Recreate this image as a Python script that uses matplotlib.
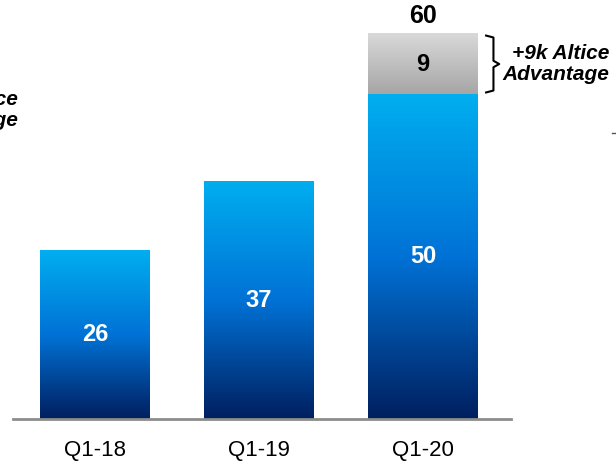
import matplotlib.pyplot as plt
import numpy as np
from matplotlib.colors import LinearSegmentedColormap
from matplotlib.lines import Line2D

plt.rcParams['font.family'] = ['Liberation Sans', 'DejaVu Sans']

# quarterly values (k) and the extra Altice segment on the last bar
quarters = ['Q1-18', 'Q1-19', 'Q1-20']
base = [26.1, 36.8, 50.2]
extra = [0, 0, 9.4]

blue = LinearSegmentedColormap.from_list(
    'blue', [(0, '#001F5F'), (0.5, '#0072D6'), (1, '#00AEEF')])
grey = LinearSegmentedColormap.from_list('grey', ['#A6A6A6', '#D9D9D9'])
ramp = np.linspace(0, 1, 256).reshape(-1, 1)

fig = plt.figure(figsize=(6.16, 4.65), dpi=100)
ax = fig.add_axes([13 / 616, 46 / 465, 498 / 616, 419 / 465])

w = 0.67
x = np.arange(len(quarters))


def grad_bar(xc, y0, y1, cmap):
    ax.imshow(ramp, extent=(xc - w / 2, xc + w / 2, y0, y1), origin='lower',
              aspect='auto', cmap=cmap, interpolation='bicubic', zorder=2)


for i in range(len(quarters)):
    grad_bar(x[i], 0, base[i], blue)
    ax.text(x[i], base[i] / 2, f'{base[i]:.0f}', ha='center', va='center',
            color='white', fontsize=17, fontweight='bold', zorder=3)
    if extra[i] > 0:
        top = base[i] + extra[i]
        grad_bar(x[i], base[i], top, grey)
        ax.text(x[i], base[i] + extra[i] / 2, f'{extra[i]:.0f}', ha='center',
                va='center', color='black', fontsize=17, fontweight='bold',
                zorder=3)
        ax.annotate(f'{top:.0f}', (x[i], top), xytext=(0, 13),
                    textcoords='offset points', ha='center', va='center',
                    fontsize=18, fontweight='bold', annotation_clip=False)

        # brace next to the grey segment
        bx = x[i] + w / 2
        lo, hi = base[i] + 0.3, top - 0.3
        mid = (lo + hi) / 2
        bx_vals = [bx + 0.05, bx + 0.095, bx + 0.095, bx + 0.13,
                   bx + 0.095, bx + 0.095, bx + 0.05]
        by_vals = [hi, hi - 0.3, mid + 0.5, mid, mid - 0.5, lo + 0.3, lo]
        ax.plot(bx_vals, by_vals, color='black', lw=1.5, clip_on=False,
                solid_joinstyle='round', zorder=3)
        fig.text(609 / 616, 1 - 64 / 465, f'+{extra[i]:.0f}k Altice\nAdvantage',
                 ha='right', va='center', ma='right', fontsize=15,
                 fontweight='bold', fontstyle='italic', linespacing=1.15)

# partial label on the left edge
fig.text(18 / 616, 1 - 110 / 465, 'Altice\nAdvantage', ha='right',
         va='center', ma='right', fontsize=15, fontweight='bold',
         fontstyle='italic', linespacing=1.15)
fig.add_artist(Line2D([612 / 616, 1], [1 - 133 / 465] * 2,
                      color='#555555', lw=1))

ax.set_xlim(-0.5, 2.537)
ax.set_ylim(0, 64.8)
ax.set_xticks(x)
ax.set_xticklabels(quarters, fontsize=16)
ax.tick_params(axis='x', length=0, pad=15)
ax.set_yticks([])
for s in ['top', 'right', 'left']:
    ax.spines[s].set_visible(False)
ax.spines['bottom'].set_color('#8C8C8C')
ax.spines['bottom'].set_linewidth(2)
ax.spines['bottom'].set_zorder(4)

fig.savefig('out.png', dpi=100)
